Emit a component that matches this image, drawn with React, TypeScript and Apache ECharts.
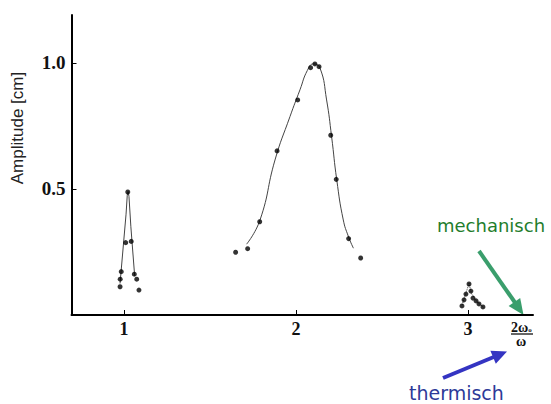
import React, { useEffect, useRef } from "react";
import * as echarts from "echarts";

// Measured points (frequency ratio, amplitude in cm)
const peak1Points: number[][] = [
  [0.977, 0.112], [0.978, 0.142], [0.984, 0.172], [1.010, 0.287], [1.022, 0.488],
  [1.042, 0.292], [1.060, 0.162], [1.074, 0.142], [1.087, 0.099],
];
const peak2Points: number[][] = [
  [1.649, 0.249], [1.719, 0.263], [1.789, 0.370], [1.890, 0.651], [2.010, 0.853],
  [2.085, 0.981], [2.110, 0.996], [2.134, 0.985], [2.202, 0.713], [2.234, 0.538],
  [2.306, 0.303], [2.376, 0.226],
];
const peak3Points: number[][] = [
  [2.965, 0.036], [2.977, 0.060], [2.988, 0.083], [3.006, 0.123], [3.017, 0.095],
  [3.029, 0.067], [3.047, 0.056], [3.064, 0.044], [3.087, 0.032],
];

// Fitted curves
const peak1Curve: number[][] = [
  [0.977, 0.125], [1.012, 0.40], [1.019, 0.475], [1.024, 0.49], [1.029, 0.47],
  [1.040, 0.35], [1.062, 0.155],
];
const peak2Curve: number[][] = [
  [1.713, 0.281], [1.791, 0.377], [1.878, 0.615], [1.965, 0.787], [2.023, 0.893],
  [2.066, 0.970], [2.101, 0.996], [2.140, 0.979], [2.178, 0.853], [2.207, 0.708],
  [2.237, 0.536], [2.275, 0.377], [2.305, 0.311], [2.334, 0.265],
];
const peak3Curve: number[][] = [
  [2.966, 0.04], [3.006, 0.125], [3.02, 0.085], [3.05, 0.055], [3.09, 0.03],
];

const xTicks = [1, 2, 3];
const yTicks = [0.5, 1.0];

export default function App() {
  const ref = useRef<HTMLDivElement>(null);
  useEffect(() => {
    if (!ref.current) return;
    const chart = echarts.init(ref.current, null, { renderer: "svg" });
    const serif = "Liberation Serif";
    const sans = "DejaVu Sans";
    const curveStyle = { color: "#444", width: 1 };
    const dot = { color: "#000" };
    chart.setOption({
      animation: false,
      backgroundColor: "#fff",
      grid: { left: 71.5, right: 18, top: 15, bottom: 89 },
      xAxis: {
        type: "value",
        min: 0.6948,
        max: 3.378,
        splitLine: { show: false },
        axisLine: { lineStyle: { color: "#000", width: 2 } },
        axisTick: { customValues: xTicks, inside: true, length: 5, lineStyle: { color: "#000", width: 1 } },
        axisLabel: {
          customValues: xTicks,
          margin: 5,
          fontFamily: serif,
          fontWeight: "bold",
          fontSize: 18,
          color: "#111",
          formatter: (v: number) => String(Math.round(v)),
        },
      },
      yAxis: {
        type: "value",
        min: 0,
        max: 1.19,
        splitLine: { show: false },
        axisLine: { show: true, lineStyle: { color: "#000", width: 2 } },
        axisTick: { show: true, customValues: yTicks, inside: true, length: 5, lineStyle: { color: "#000", width: 1 } },
        axisLabel: {
          customValues: yTicks,
          margin: 6,
          fontFamily: serif,
          fontWeight: "bold",
          fontSize: 19,
          color: "#111",
          formatter: (v: number) => v.toFixed(1),
        },
      },
      series: [
        { type: "line", data: peak1Curve, showSymbol: false, lineStyle: curveStyle, z: 1 },
        { type: "line", data: peak2Curve, smooth: true, showSymbol: false, lineStyle: curveStyle, z: 1 },
        { type: "line", data: peak3Curve, showSymbol: false, lineStyle: { color: "#444", width: 1, type: "dotted" }, z: 1 },
        { type: "scatter", data: peak1Points, symbolSize: 5, itemStyle: dot, z: 2 },
        { type: "scatter", data: peak2Points, symbolSize: 5, itemStyle: dot, z: 2 },
        { type: "scatter", data: peak3Points, symbolSize: 5, itemStyle: dot, z: 2 },
      ],
      graphic: [
        {
          type: "text",
          x: 17,
          y: 128,
          rotation: Math.PI / 2,
          style: {
            text: "Amplitude [cm]",
            fontFamily: "Liberation Sans",
            fontSize: 17,
            fill: "#222",
            align: "center",
            verticalAlign: "middle",
          },
        },
        {
          type: "text",
          x: 511,
          y: 327,
          style: {
            text: "{a|2ω}{b|o}",
            align: "left",
            verticalAlign: "middle",
            rich: {
              a: { fontFamily: serif, fontWeight: "bold", fontSize: 14, fill: "#111" },
              b: { fontFamily: serif, fontWeight: "bold", fontSize: 7, fill: "#111", padding: [5, 0, 0, 0] },
            },
          },
        },
        { type: "line", shape: { x1: 511, y1: 334, x2: 533, y2: 334 }, style: { stroke: "#111", lineWidth: 1.3 } },
        {
          type: "text",
          x: 521,
          y: 341,
          style: { text: "ω", fontFamily: serif, fontWeight: "bold", fontSize: 14, fill: "#111", align: "center", verticalAlign: "middle" },
        },
        {
          type: "text",
          x: 437,
          y: 225,
          style: { text: "mechanisch", fontFamily: sans, fontSize: 18, fill: "#1f7d2c", align: "left", verticalAlign: "middle" },
        },
        { type: "line", shape: { x1: 479, y1: 251, x2: 516, y2: 304 }, style: { stroke: "#3a9e6c", lineWidth: 4 } },
        {
          type: "polygon",
          shape: { points: [[523.5, 315], [508.6, 305.9], [520.2, 297.9]] },
          style: { fill: "#3a9e6c" },
        },
        {
          type: "text",
          x: 409,
          y: 393,
          style: { text: "thermisch", fontFamily: sans, fontSize: 19, fill: "#2d3a98", align: "left", verticalAlign: "middle" },
        },
        { type: "line", shape: { x1: 443, y1: 378, x2: 495, y2: 356.5 }, style: { stroke: "#3434c2", lineWidth: 4 } },
        {
          type: "polygon",
          shape: { points: [[507, 351.5], [495.8, 363.7], [490.4, 350.7]] },
          style: { fill: "#3434c2" },
        },
      ],
    });
    return () => chart.dispose();
  }, []);
  return (
    <div
      ref={ref}
      style={{ position: "absolute", left: 0, top: 0, width: 551, height: 404 }}
    />
  );
}
